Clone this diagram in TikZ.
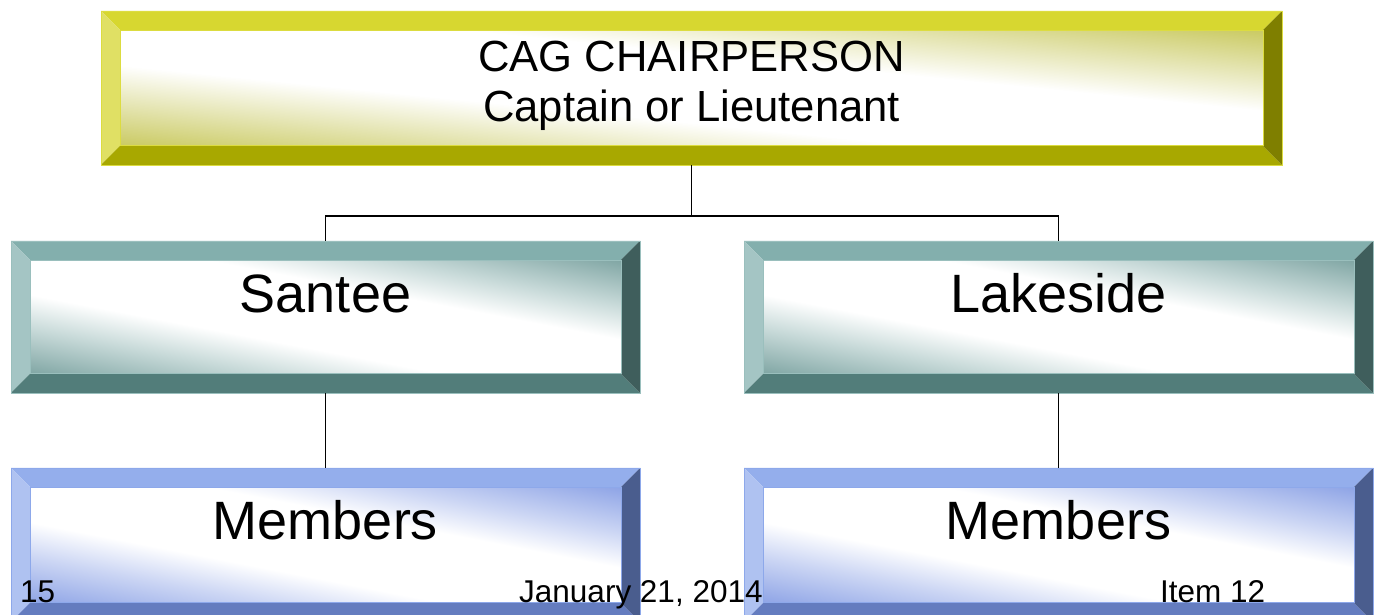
\documentclass[tikz,border=0pt]{standalone}
\usepackage{fontspec}
\setmainfont{Liberation Sans}
\definecolor{yTop}{HTML}{D7D730}
\definecolor{yLeft}{HTML}{E0E064}
\definecolor{yBot}{HTML}{A8A800}
\definecolor{yRight}{HTML}{7F7F00}
\definecolor{yEdge}{HTML}{DCDC40}
\definecolor{yDark}{HTML}{CACA62}
\definecolor{yMid}{HTML}{E8E8BC}
\definecolor{tTop}{HTML}{83AFAD}
\definecolor{tLeft}{HTML}{A4C5C4}
\definecolor{tBot}{HTML}{527D7A}
\definecolor{tRight}{HTML}{3F5E5C}
\definecolor{tEdge}{HTML}{9ABFBD}
\definecolor{tDark}{HTML}{80A6A4}
\definecolor{tMid}{HTML}{C8DAD9}
\definecolor{bTop}{HTML}{94AEEC}
\definecolor{bLeft}{HTML}{AFC2F1}
\definecolor{bBot}{HTML}{647CBF}
\definecolor{bRight}{HTML}{4A5D8E}
\definecolor{bEdge}{HTML}{8DA8EA}
\definecolor{bDark}{HTML}{8EA4E6}
\definecolor{bMid}{HTML}{CCD6F4}
\pgfdeclarehorizontalshading{yShade}{100bp}{color(0bp)=(yDark); color(25bp)=(yDark); color(35bp)=(yMid); color(42.5bp)=(white); color(57.5bp)=(white); color(65bp)=(yMid); color(75bp)=(yDark); color(100bp)=(yDark)}
\pgfdeclarehorizontalshading{tShade}{100bp}{color(0bp)=(tDark); color(25bp)=(tDark); color(35bp)=(tMid); color(42.5bp)=(white); color(57.5bp)=(white); color(65bp)=(tMid); color(75bp)=(tDark); color(100bp)=(tDark)}
\pgfdeclarehorizontalshading{bShade}{100bp}{color(0bp)=(bDark); color(25bp)=(bDark); color(35bp)=(bMid); color(42.5bp)=(white); color(57.5bp)=(white); color(65bp)=(bMid); color(75bp)=(bDark); color(100bp)=(bDark)}
\tikzset{
  bevbox/.style n args={8}{rectangle, inner sep=0pt, draw=#6, line width=0.8pt,
    minimum width=#7pt, minimum height=#8pt,
    path picture={
      \coordinate (bSW) at (path picture bounding box.south west);
      \coordinate (bNE) at (path picture bounding box.north east);
      \coordinate (bNW) at (path picture bounding box.north west);
      \coordinate (bSE) at (path picture bounding box.south east);
      \coordinate (iSW) at ([shift={(19.5pt,19.5pt)}]bSW);
      \coordinate (iNE) at ([shift={(-19.5pt,-19.5pt)}]bNE);
      \coordinate (iNW) at ([shift={(19.5pt,-19.5pt)}]bNW);
      \coordinate (iSE) at ([shift={(-19.5pt,19.5pt)}]bSE);
      \fill[#1] (bNW) -- (bNE) -- (iNE) -- (iNW) -- cycle;
      \fill[#2] (bNW) -- (iNW) -- (iSW) -- (bSW) -- cycle;
      \fill[#3] (bSW) -- (iSW) -- (iSE) -- (bSE) -- cycle;
      \fill[#4] (bSE) -- (iSE) -- (iNE) -- (bNE) -- cycle;
    }},
  ybox/.style 2 args={bevbox={yTop}{yLeft}{yBot}{yRight}{yShade}{yEdge}{#1}{#2}},
  tbox/.style 2 args={bevbox={tTop}{tLeft}{tBot}{tRight}{tShade}{tEdge}{#1}{#2}},
  bbox/.style 2 args={bevbox={bTop}{bLeft}{bBot}{bRight}{bShade}{bEdge}{#1}{#2}},
  toptext/.style={anchor=base, inner sep=0pt, font=\fontsize{43.6}{50}\selectfont},
  bigtext/.style={anchor=base, inner sep=0pt, font=\fontsize{54}{60}\selectfont},
  foot/.style={anchor=base west, inner sep=0pt, font=\fontsize{31.5}{36}\selectfont},
  conn/.style={draw=black, line width=1.6pt}
}
% inner gradient of a bevel box: node, shading, inner width, inner height, edge colour
\newcommand\innerfill[5]{%
  \begin{scope}
    \clip ([shift={(19.5pt,19.5pt)}]#1.south west) rectangle ([shift={(-19.5pt,-19.5pt)}]#1.north east);
    \shade[shading=#2, transform canvas={shift={(#1.center)}, xscale=#3/100, yscale=#4/100, rotate=45}] (-71,-71) rectangle (71,71);
  \end{scope}
  \draw[#5, line width=0.8pt] ([shift={(19.5pt,19.5pt)}]#1.south west) rectangle ([shift={(-19.5pt,-19.5pt)}]#1.north east);
}
\begin{document}
\begin{tikzpicture}[x=1pt,y=1pt]
\useasboundingbox (0,0) rectangle (1379,615);
\clip (0,0) rectangle (1379,615);
\node[ybox={1181}{154}] (top) at (691.5,527) {};
\node[tbox={629}{152}] (santee) at (325.5,298) {};
\node[tbox={629}{152}] (lakeside) at (1058.5,298) {};
\node[bbox={629}{154}] (memA) at (325.5,70) {};
\node[bbox={629}{154}] (memB) at (1058.5,70) {};
\innerfill{top}{yShade}{1142}{115}{yEdge}
\innerfill{santee}{tShade}{590}{113}{tEdge}
\innerfill{lakeside}{tShade}{590}{113}{tEdge}
\innerfill{memA}{bShade}{590}{115}{bEdge}
\innerfill{memB}{bShade}{590}{115}{bEdge}
\node[toptext] (topL1) at ([yshift=16pt]top.center) {CAG CHAIRPERSON};
\node[toptext] (topL2) at ([yshift=-34pt]top.center) {Captain or Lieutenant};
\node[bigtext] (santeeL) at ([yshift=4pt]santee.center) {Santee};
\node[bigtext] (lakesideL) at ([yshift=4pt]lakeside.center) {Lakeside};
\node[bigtext] (memAL) at ([yshift=5pt]memA.center) {Members};
\node[bigtext] (memBL) at ([yshift=5pt]memB.center) {Members};
\coordinate (junc) at (691.5,399);
\draw[conn] (top.south) -- (junc);
\draw[conn] (junc) -| (santee.north);
\draw[conn] (junc) -| (lakeside.north);
\draw[conn] (santee.south) -- (memA.north);
\draw[conn] (lakeside.south) -- (memB.north);
\node[foot] (pg) at (20,12) {15};
\node[foot] (date) at (519,12) {January 21, 2014};
\node[foot] (item) at (1160,12) {Item 12};
\end{tikzpicture}
\end{document}
